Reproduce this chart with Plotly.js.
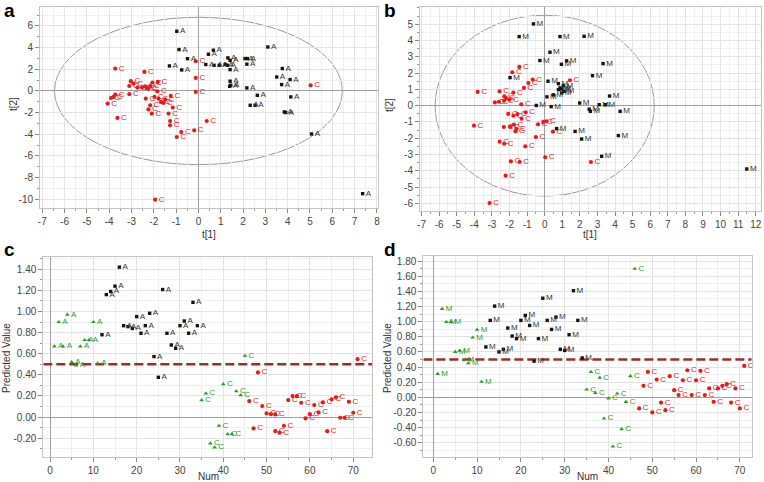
<!DOCTYPE html>
<html>
<head>
<meta charset="utf-8">
<script src="https://cdn.plot.ly/plotly-3.0.1.min.js"></script>
<style>html,body{margin:0;padding:0;background:#fff;}#chart{width:764px;height:482px;}</style>
</head>
<body>
<div id="chart"></div>
<script>
// ---- Panel a: score plot, group A vs C ----
const aAx = [-0.97,-0.87,-0.49,-1.30,-0.75,0.45,0.67,3.11,0.33,0.70,0.93,1.20,1.30,1.32,1.42,1.42,2.09,2.19,2.17,3.76,3.51,4.11,3.73,1.42,1.45,1.40,2.17,2.64,2.32,2.54,4.14,3.85,3.91,5.07,7.36];
const aAy = [5.51,3.82,2.98,2.31,1.94,3.39,3.76,4.06,2.44,2.37,2.37,2.44,2.37,3.05,2.83,1.97,2.99,2.99,2.47,2.07,1.29,1.05,0.59,0.90,0.53,0.43,0.28,-0.40,-1.32,-1.32,-0.55,-1.94,-1.99,-3.97,-9.48];
const aCx = [-3.73,-2.42,-3.03,-2.91,-3.10,-2.73,-2.53,-2.39,-2.31,-2.16,-2.06,-1.82,-2.25,-1.84,-3.10,-3.73,-3.92,-3.81,-4.07,-2.36,-1.97,-1.79,-1.68,-1.57,-1.49,-1.24,-2.16,-2.24,-2.09,-1.15,-1.34,-3.63,-1.27,-1.27,-0.77,-0.97,-0.19,-0.12,-0.12,-0.12,0.37,5.03,-1.94];
const aCy = [2.07,1.76,0.90,0.68,0.46,0.31,0.31,0.43,0.28,0.46,0.78,0.83,0.20,-0.03,-0.30,-0.33,-0.65,-0.55,-1.16,-0.70,-0.55,-0.70,-1.01,-1.10,-0.79,-0.46,-1.32,-1.70,-2.09,-1.53,-2.09,-2.49,-2.77,-3.17,-3.79,-4.25,-3.63,-0.09,1.20,2.74,-2.77,0.52,-10.03];

// ---- Panel b: score plot, group M vs C ----
const bMx = [-0.64,-1.45,0.87,2.24,0.30,-0.27,0.95,1.25,3.32,2.72,-1.97,0.19,0.78,0.87,0.97,1.06,0.78,0.49,0.13,0.97,1.12,3.69,-0.48,0.37,1.99,2.53,2.60,3.10,3.45,4.29,0.68,1.73,2.10,4.19,3.24,11.49];
const bMy = [5.02,4.24,4.24,4.26,3.28,2.77,2.54,2.75,2.58,1.84,1.72,1.50,1.35,1.09,1.02,1.23,0.98,0.66,0.54,0.78,0.88,0.59,0.01,-0.06,0.16,-0.22,-0.35,0.06,0.06,-0.35,-1.41,-1.58,-2.05,-1.84,-3.11,-3.89];
const bCx = [-1.44,-1.84,-0.68,-0.93,-1.18,1.44,-3.81,-2.56,-1.78,-2.29,-2.20,-2.01,-2.30,-2.83,-2.60,-1.33,-1.08,-1.31,-2.07,-1.78,-1.55,-0.38,-0.08,0.10,-4.02,-2.32,-1.95,-1.75,-1.60,-1.66,0.47,-0.50,-1.10,-2.56,-2.30,0.03,-1.92,-1.42,2.63,-2.22,-3.13];
const bCy = [2.38,2.05,1.60,1.39,1.09,1.56,0.84,0.88,0.80,0.57,0.47,0.37,0.31,0.20,0.24,0.08,-0.41,-0.80,-0.51,-0.62,-0.52,-1.15,-1.00,-0.96,-1.23,-1.31,-1.30,-1.17,-1.43,-1.58,-1.60,-1.93,-2.50,-2.21,-2.34,-3.17,-3.42,-3.46,-3.46,-4.30,-5.98];

// ---- Panel c: predicted values, A vs C ----
const cTestANum = [1,2,3,4,5,6,7,8,9,10,11];
const cTestAVal = [0.67,0.90,0.67,0.97,0.52,0.49,0.67,0.73,0.73,0.90,0.51];
const cTrainANum = [12,13,14,15,16,17,18,19,20,21,22,23,24,25,26,27,28,29,30,31,32,33,34];
const cTrainAVal = [0.78,1.16,1.19,1.24,1.42,0.866,0.857,0.84,0.952,0.794,0.866,0.983,0.573,0.377,1.208,0.794,0.683,0.652,0.866,0.91,0.794,1.087,0.866];
const cTestCNum = [35,36,37,38,39,40,41,42,43,44,45];
const cTestCVal = [0.161,0.224,-0.249,-0.287,-0.082,0.312,-0.161,-0.161,0.246,0.208,0.581];
const cTrainCNum = [46,47,48,49,50,51,52,52,53,54,55,56,57,58,59,60,61,62,63,64,65,66,67,68,69,70,71];
const cTrainCVal = [0.152,-0.107,0.423,0.104,0.035,0.028,0.025,-0.133,-0.148,-0.082,0.161,0.199,0.199,0.136,-0.013,0.028,0.114,0.044,0.139,-0.133,0.167,0.186,-0.006,-0.006,0.145,0.041,0.549];

// ---- Panel d: predicted values, M vs C ----
const dTestMNum = [1,2,3,4,5,6,7,8,9,10,11];
const dTestMVal = [0.31,1.17,0.995,0.995,0.60,0.615,0.49,0.45,0.79,0.895,0.205];
const dTrainMNum = [12,13,14,15,16,17,18,19,20,21,22,23,24,25,26,27,28,29,30,31,32,33,34];
const dTrainMVal = [0.666,1.017,1.206,0.60,0.635,0.916,0.81,0.776,1.017,1.083,0.95,0.478,0.776,1.31,1.017,0.898,1.06,0.635,0.62,0.828,1.41,1.017,0.52];
const dTestCNum = [35,36,37,38,39,40,41,42,43,44,45,46];
const dTestCVal = [0.103,0.336,0.059,0.26,-0.28,-0.015,-0.65,0.05,-0.42,-0.06,0.28,1.70];
const dTrainCNum = [47,48,49,50,51,52,53,54,55,56,57,58,59,60,61,62,63,64,65,66,67,68,69,70,71];
const dTrainCVal = [-0.147,0.152,0.336,-0.2,0.235,-0.07,-0.17,0.28,0.095,0.03,0.226,0.358,0.03,0.226,0.35,0.03,0.117,-0.06,0.117,0.152,0.174,-0.07,0.117,-0.147,0.415];

// ---- tick labels ----
const aXticks = [-7,-6,-5,-4,-3,-2,-1,0,1,2,3,4,5,6,7,8];
const aXtext = ['-7','-6','-5','-4','-3','-2','-1','0','1','2','3','4','5','6','7','8'];
const aYticks = [-10,-8,-6,-4,-2,0,2,4,6];
const aYtext = ['-10','-8','-6','-4','-2','0','2','4','6'];
const bXticks = [-7,-6,-5,-4,-3,-2,-1,0,1,2,3,4,5,6,7,8,9,10,11,12];
const bXtext = ['-7','-6','-5','-4','-3','-2','-1','0','1','2','3','4','5','6','7','8','9','10','11','12'];
const bYticks = [-6,-5,-4,-3,-2,-1,0,1,2,3,4,5];
const bYtext = ['-6','-5','-4','-3','-2','-1','0','1','2','3','4','5'];
const numTicks = [0,10,20,30,40,50,60,70];
const numText = ['0','10','20','30','40','50','60','70'];
const cYticks = [-0.2,0,0.2,0.4,0.6,0.8,1.0,1.2,1.4];
const cYtext = ['-0.20','0.00','0.20','0.40','0.60','0.80','1.00','1.20','1.40'];
const dYticks = [-0.6,-0.4,-0.2,0,0.2,0.4,0.6,0.8,1.0,1.2,1.4,1.6,1.8];
const dYtext = ['-0.60','-0.40','-0.20','0.00','0.20','0.40','0.60','0.80','1.00','1.20','1.40','1.60','1.80'];
const threshold = 0.5;

const cXRange = [-1.55, 74.4];
const dXRange = [-2.28, 72.7];

const BLACK = '#141414', RED = '#e8191c', GREEN = '#2f9a2f';

function pts(x, y, label, color, symbol, size, xa, ya, tcolor) {
  return {
    type: 'scatter', mode: 'markers+text', x: x, y: y, xaxis: xa, yaxis: ya,
    text: x.map(() => label), textposition: 'middle right',
    textfont: {family: 'Liberation Sans, Arial, sans-serif', size: 8, color: tcolor || color},
    marker: {color: color, symbol: symbol, size: size, line: {width: 0}},
    cliponaxis: false, hoverinfo: 'skip'
  };
}

function cutLine(range, xa, ya) {
  return {
    type: 'scatter', mode: 'lines', x: range, y: [threshold, threshold], xaxis: xa, yaxis: ya,
    line: {color: '#a02a2a', width: 2.5, dash: '9px,4px'}, hoverinfo: 'skip'
  };
}

const traces = [
  cutLine(cXRange, 'x3', 'y3'),
  cutLine(dXRange, 'x4', 'y4'),
  pts(aCx, aCy, 'C', RED, 'circle', 4.2, 'x', 'y'),
  pts(aAx, aAy, 'A', BLACK, 'square', 3.4, 'x', 'y', '#333'),
  pts(bCx, bCy, 'C', RED, 'circle', 4.2, 'x2', 'y2'),
  pts(bMx, bMy, 'M', BLACK, 'square', 3.4, 'x2', 'y2', '#333'),
  pts(cTestANum, cTestAVal, 'A', GREEN, 'triangle-up', 4.2, 'x3', 'y3'),
  pts(cTrainANum, cTrainAVal, 'A', BLACK, 'square', 3.4, 'x3', 'y3', '#333'),
  pts(cTestCNum, cTestCVal, 'C', GREEN, 'triangle-up', 4.2, 'x3', 'y3'),
  pts(cTrainCNum, cTrainCVal, 'C', RED, 'circle', 4.2, 'x3', 'y3'),
  pts(dTestMNum, dTestMVal, 'M', GREEN, 'triangle-up', 4.2, 'x4', 'y4'),
  pts(dTrainMNum, dTrainMVal, 'M', BLACK, 'square', 3.4, 'x4', 'y4', '#333'),
  pts(dTestCNum, dTestCVal, 'C', GREEN, 'triangle-up', 4.2, 'x4', 'y4'),
  pts(dTrainCNum, dTrainCVal, 'C', RED, 'circle', 4.2, 'x4', 'y4')
];

function axis(domain, range, tv, tt, minorD, anchor) {
  return {
    domain: domain, range: range, anchor: anchor,
    tickmode: 'array', tickvals: tv, ticktext: tt,
    ticks: 'outside', ticklen: 4, tickcolor: '#888', tickwidth: 1,
    tickfont: {size: 10, color: '#444'},
    showgrid: true, gridcolor: '#e3e3e3', gridwidth: 1,
    minor: {dtick: minorD, tick0: 0, showgrid: true, gridcolor: '#efefef', ticks: 'outside', ticklen: 2, tickcolor: '#999'},
    zeroline: true, zerolinecolor: '#a0a0a0', zerolinewidth: 1,
    showline: true, linecolor: '#c4c4c4', linewidth: 1, mirror: true,
    fixedrange: true
  };
}

const layout = {
  width: 764, height: 482,
  margin: {l: 0, r: 0, t: 0, b: 0},
  paper_bgcolor: '#fff', plot_bgcolor: '#fff',
  showlegend: false,
  font: {family: 'Liberation Sans, Arial, sans-serif', size: 10, color: '#333'},
  xaxis:  axis([0.0524, 0.4948], [-7.1, 8.05], aXticks, aXtext, 0.5, 'y'),
  yaxis:  axis([0.5685, 0.9855], [-10.8, 7.75], aYticks, aYtext, 1, 'x'),
  xaxis2: axis([0.5497, 0.9961], [-7.09, 12.3], bXticks, bXtext, 0.5, 'y2'),
  yaxis2: axis([0.5629, 0.9849], [-6.45, 6.04], bYticks, bYtext, 0.5, 'x2'),
  xaxis3: axis([0.0567, 0.4873], cXRange, numTicks, numText, 5, 'y3'),
  yaxis3: axis([0.0525, 0.4674], [-0.375, 1.519], cYticks, cYtext, 0.1, 'x3'),
  xaxis4: axis([0.5541, 0.9839], dXRange, numTicks, numText, 5, 'y4'),
  yaxis4: axis([0.0525, 0.4699], [-0.785, 1.875], dYticks, dYtext, 0.1, 'x4'),
  shapes: [
    {type: 'circle', xref: 'x', yref: 'y', x0: -6.45, x1: 6.45, y0: -6.8, y1: 6.8, line: {color: '#9a9a9a', width: 1}, layer: 'below'},
    {type: 'circle', xref: 'x2', yref: 'y2', x0: -6.23, x1: 6.23, y0: -5.55, y1: 5.55, line: {color: '#9a9a9a', width: 1}, layer: 'below'}
  ],
  annotations: [
    {text: '<b>a</b>', xref: 'paper', yref: 'paper', x: 0.002, y: 1.004, xanchor: 'left', yanchor: 'top', showarrow: false, font: {size: 19, color: '#000'}},
    {text: '<b>b</b>', xref: 'paper', yref: 'paper', x: 0.5, y: 1.004, xanchor: 'left', yanchor: 'top', showarrow: false, font: {size: 19, color: '#000'}},
    {text: '<b>c</b>', xref: 'paper', yref: 'paper', x: 0.002, y: 0.508, xanchor: 'left', yanchor: 'top', showarrow: false, font: {size: 19, color: '#000'}},
    {text: '<b>d</b>', xref: 'paper', yref: 'paper', x: 0.5, y: 0.508, xanchor: 'left', yanchor: 'top', showarrow: false, font: {size: 19, color: '#000'}},
    {text: 't[1]', xref: 'paper', yref: 'paper', x: 209/764, y: 1 - 234/482, xanchor: 'center', yanchor: 'middle', showarrow: false, font: {size: 10, color: '#333'}},
    {text: 't[2]', xref: 'paper', yref: 'paper', x: 13/764, y: 1 - 104/482, xanchor: 'center', yanchor: 'middle', textangle: -90, showarrow: false, font: {size: 10, color: '#333'}},
    {text: 't[1]', xref: 'paper', yref: 'paper', x: 590/764, y: 1 - 234/482, xanchor: 'center', yanchor: 'middle', showarrow: false, font: {size: 10, color: '#333'}},
    {text: 't[2]', xref: 'paper', yref: 'paper', x: 389/764, y: 1 - 105/482, xanchor: 'center', yanchor: 'middle', textangle: -90, showarrow: false, font: {size: 10, color: '#333'}},
    {text: 'Num', xref: 'paper', yref: 'paper', x: 208/764, y: 1 - 476/482, xanchor: 'center', yanchor: 'middle', showarrow: false, font: {size: 10, color: '#333'}},
    {text: 'Predicted Value', xref: 'paper', yref: 'paper', x: 6/764, y: 1 - 358/482, xanchor: 'center', yanchor: 'middle', textangle: -90, showarrow: false, font: {size: 10, color: '#333'}},
    {text: 'Num', xref: 'paper', yref: 'paper', x: 587/764, y: 1 - 476/482, xanchor: 'center', yanchor: 'middle', showarrow: false, font: {size: 10, color: '#333'}},
    {text: 'Predicted Value', xref: 'paper', yref: 'paper', x: 387/764, y: 1 - 358/482, xanchor: 'center', yanchor: 'middle', textangle: -90, showarrow: false, font: {size: 10, color: '#333'}}
  ]
};

Plotly.newPlot('chart', traces, layout, {staticPlot: true, displayModeBar: false});
</script>
</body>
</html>
